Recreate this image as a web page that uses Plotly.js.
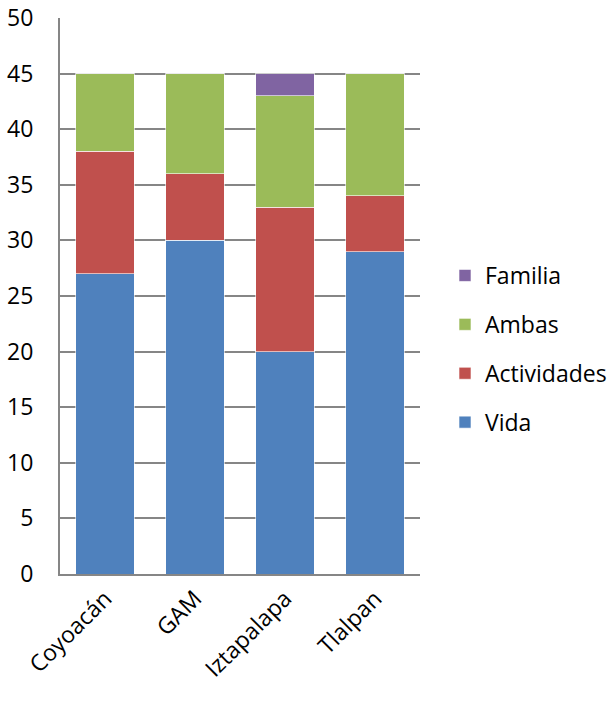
<!DOCTYPE html>
<html>
<head>
<meta charset="utf-8">
<script src="https://cdn.plot.ly/plotly-3.0.1.min.js"></script>
<style>html,body{margin:0;padding:0;background:#fff;}#chart{width:612px;height:709px;}</style>
</head>
<body>
<div id="chart"></div>
<script>
const categories = ["Coyoacán", "GAM", "Iztapalapa", "Tlalpan"];
const vida = [27, 30, 20, 29];
const actividades = [11, 6, 13, 5];
const ambas = [7, 9, 10, 11];
const familia = [0, 0, 2, 0];
const yTicks = [0, 5, 10, 15, 20, 25, 30, 35, 40, 45, 50];

const seriesNames = ["Vida", "Actividades", "Ambas", "Familia"];
const seriesData = [vida, actividades, ambas, familia];
const colors = ["#4F81BD", "#C0504D", "#9BBB59", "#8064A2"];

const traces = seriesData.map((d, i) => ({
  type: "bar",
  name: seriesNames[i],
  x: categories,
  y: d,
  legendgroup: seriesNames[i],
  legendrank: 10 - i,
  marker: {color: colors[i], line: {color: "rgba(255,255,255,0.6)", width: 1}},
  hoverinfo: "none"
}));

const layout = {
  width: 612, height: 709,
  margin: {l: 60, r: 192, t: 18, b: 135, autoexpand: false},
  barmode: "stack",
  bargap: 0.35,
  paper_bgcolor: "#fff",
  plot_bgcolor: "#fff",
  font: {family: "Open Sans, sans-serif", size: 23, color: "#000"},
  xaxis: {
    type: "category",
    tickangle: -45,
    showgrid: false,
    showline: true,
    linecolor: "#868686",
    linewidth: 2,
    ticks: "",
    tickfont: {size: 23}
  },
  yaxis: {
    range: [0, 50],
    tickvals: yTicks,
    ticktext: yTicks.map(String),
    showgrid: true,
    gridcolor: "#868686",
    gridwidth: 2,
    showline: true,
    linecolor: "#868686",
    linewidth: 2,
    ticks: "",
    ticklabelstandoff: 20,
    zeroline: false,
    tickfont: {size: 23}
  },
  showlegend: true,
  legend: {
    xref: "container", yref: "container",
    x: 445 / 612, xanchor: "left",
    y: 1 - 349 / 709, yanchor: "middle",
    traceorder: "grouped",
    tracegroupgap: 16,
    itemwidth: 30,
    font: {size: 23}
  }
};

Plotly.newPlot("chart", traces, layout, {displayModeBar: false, staticPlot: true});
</script>
</body>
</html>
